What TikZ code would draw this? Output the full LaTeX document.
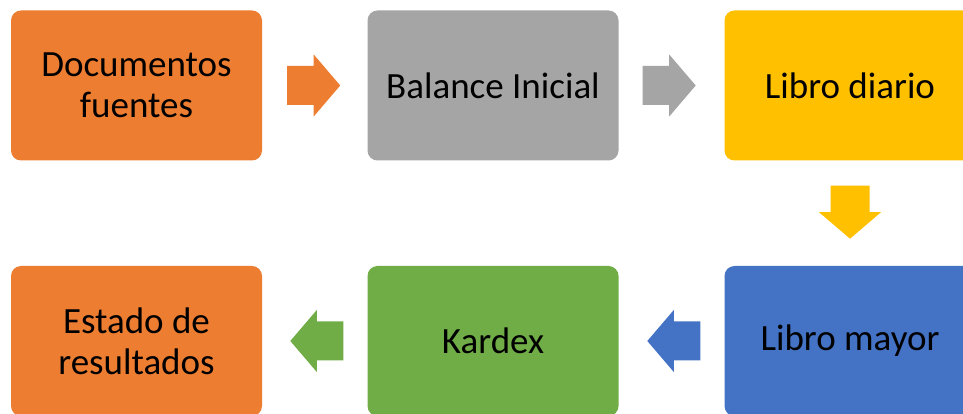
\documentclass[tikz,border=0pt]{standalone}
\usepackage{fontspec}
\setmainfont{Carlito}
\usetikzlibrary{calc}
\definecolor{cOrange}{HTML}{ED7D31}
\definecolor{cGray}{HTML}{A5A5A5}
\definecolor{cGold}{HTML}{FFC000}
\definecolor{cBlue}{HTML}{4472C4}
\definecolor{cGreen}{HTML}{70AD47}
% block arrow: #1 tail centre, #2 direction angle, #3 colour
\newcommand{\flowarrow}[3]{%
  \fill[#3,shift={(#1)},rotate=#2]
    (0,-19.5) -- (26.5,-19.5) -- (26.5,-31) -- (53,0) -- (26.5,31)
    -- (26.5,19.5) -- (0,19.5) -- cycle;}
\begin{document}
\begin{tikzpicture}[x=1pt,y=1pt,
  stagebox/.style={rounded corners=10pt, minimum width=251pt, minimum height=150pt,
    inner sep=0pt, align=center, text=black,
    font=\fontsize{37}{41}\selectfont}]
\useasboundingbox (0,0) rectangle (963,414);
\clip (0,0) rectangle (963,414);
\fill[white] (0,0) rectangle (963,414);
% stages
\node[stagebox, fill=cOrange] (docs)    at (136.5,328.5) {Documentos\\fuentes};
\node[stagebox, fill=cGray]   (balance) at (493,328.5)   {Balance Inicial};
\node[stagebox, fill=cGold]   (diario)  at (850,328.5)   {Libro diario};
\node[stagebox, fill=cBlue]   (mayor)   at (850,73)      {Libro mayor};
\node[stagebox, fill=cGreen]  (kardex)  at (493,73)      {Kardex};
\node[stagebox, fill=cOrange] (estado)  at (136.5,73)    {Estado de\\resultados};
% flow arrows
\flowarrow{$(docs.east)+(25,0)$}{0}{cOrange}
\flowarrow{$(balance.east)+(24,0)$}{0}{cGray}
\flowarrow{$(diario.south)+(0,-25)$}{-90}{cGold}
\flowarrow{$(mayor.west)+(-24,0)$}{180}{cBlue}
\flowarrow{$(kardex.west)+(-24,0)$}{180}{cGreen}
\end{tikzpicture}
\end{document}
